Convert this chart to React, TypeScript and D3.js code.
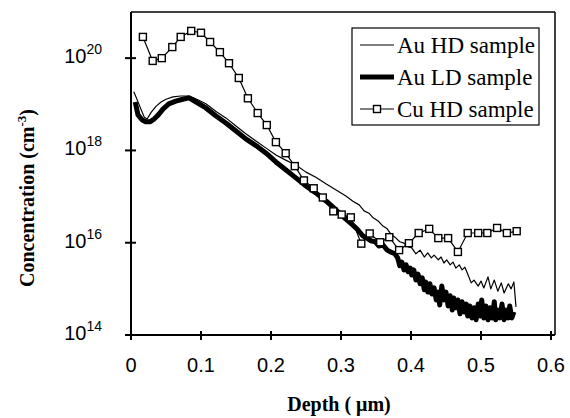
import React from "react";
import * as d3 from "d3";

// Depth (µm) and log10 concentration (cm^-3)
const cuDepth = [0.017,0.031,0.044,0.059,0.071,0.086,0.100,0.113,0.127,0.140,0.154,0.167,0.181,0.194,0.207,0.221,0.234,0.247,0.261,0.274,0.289,0.301,0.314,0.329,0.341,0.356,0.369,0.383,0.397,0.411,0.426,0.439,0.453,0.467,0.481,0.496,0.509,0.523,0.537,0.551];
const cuLog = [20.46,19.94,20.00,20.24,20.46,20.59,20.55,20.35,20.13,19.89,19.57,19.13,18.81,18.55,18.18,17.94,17.66,17.35,17.18,16.98,16.68,16.61,16.55,15.98,16.20,16.01,16.12,15.84,15.99,16.21,16.30,16.10,16.10,15.80,16.21,16.21,16.21,16.32,16.21,16.25];

const auHdDepth = [0.004,0.009,0.014,0.019,0.023,0.029,0.036,0.043,0.050,0.060,0.071,0.083,0.094,0.107,0.121,0.136,0.150,0.164,0.179,0.193,0.207,0.221,0.236,0.250,0.264,0.279,0.293,0.307,0.317,0.326,0.333,0.340,0.346,0.353,0.360,0.366,0.371,0.377,0.384,0.390,0.396,0.401,0.407,0.413,0.419,0.424,0.429,0.433,0.439,0.443,0.447,0.451,0.456,0.460,0.464,0.469,0.473,0.477,0.481,0.486,0.490,0.496,0.500,0.504,0.510,0.514,0.519,0.524,0.529,0.533,0.539,0.543,0.547,0.550];
const auHdLog = [19.27,19.09,18.90,18.72,18.68,18.83,18.96,19.05,19.11,19.16,19.18,19.18,19.11,19.01,18.85,18.70,18.53,18.36,18.20,18.05,17.90,17.79,17.68,17.53,17.42,17.27,17.14,17.01,16.90,16.82,16.69,16.64,16.54,16.47,16.36,16.30,16.19,16.12,16.02,15.99,15.91,15.89,15.76,15.84,15.69,15.78,15.67,15.73,15.63,15.69,15.56,15.63,15.52,15.58,15.45,15.52,15.41,15.47,15.32,15.13,15.19,15.06,15.17,15.02,15.26,15.00,15.19,14.95,15.13,14.91,15.11,15.00,15.15,14.61];

const auLdDepth = [0.006,0.010,0.016,0.021,0.027,0.033,0.039,0.046,0.054,0.064,0.074,0.083,0.093,0.107,0.121,0.136,0.150,0.164,0.179,0.193,0.207,0.221,0.236,0.250,0.264,0.279,0.293,0.307,0.317,0.324,0.331,0.337,0.343,0.349,0.354,0.360,0.366,0.371,0.377,
  0.381,0.384,0.387,0.390,0.393,0.396,0.399,0.401,0.404,0.407,0.410,0.413,0.416,0.419,0.421,0.424,0.427,0.430,0.433,0.436,0.439,0.441,0.444,0.447,0.450,0.453,0.456,0.459,0.461,0.464,0.467,0.470,0.473,0.476,0.479,0.481,0.484,0.487,0.490,0.493,0.496,0.499,0.501,0.504,0.507,0.510,0.513,0.516,0.519,0.521,0.524,0.527,0.530,0.533,0.536,0.539,0.541,0.544,0.547];
const auLdLog = [19.05,18.77,18.66,18.62,18.62,18.68,18.77,18.90,19.01,19.07,19.11,19.14,19.05,18.92,18.75,18.59,18.42,18.25,18.10,17.94,17.75,17.58,17.40,17.23,17.08,16.90,16.71,16.51,16.38,16.28,16.15,16.10,16.04,16.02,15.93,15.95,15.84,15.80,15.76,
  15.67,15.50,15.58,15.41,15.52,15.37,15.45,15.30,15.41,15.19,15.32,15.11,15.24,14.98,15.15,14.93,15.11,14.89,15.02,14.76,14.93,14.65,15.06,14.76,14.93,14.63,14.85,14.54,14.80,14.59,14.76,14.46,14.72,14.50,14.67,14.41,14.63,14.37,14.59,14.33,14.67,14.41,14.76,14.37,14.63,14.33,14.59,14.37,14.72,14.33,14.54,14.37,14.67,14.33,14.54,14.37,14.63,14.37,14.50];

const xTicks = [0, 0.1, 0.2, 0.3, 0.4, 0.5, 0.6];
const yTickExp = [14, 16, 18, 20];
const legendLabels = ["Au HD sample", "Au LD sample", "Cu HD sample"];

export default function App() {
  const W = 570, H = 418;
  const x = d3.scaleLinear().domain([0, 0.6]).range([131, 551]);
  const y = d3.scaleLog().domain([1e14, 1e21]).range([335, 12]);

  const mk = (ds: number[], ls: number[]) => ds.map((d, i) => [d, Math.pow(10, ls[i])] as [number, number]);
  const line = d3.line<[number, number]>().x(d => x(d[0])).y(d => y(d[1]));
  const cu = mk(cuDepth, cuLog);
  const hd = mk(auHdDepth, auHdLog);
  const ld = mk(auLdDepth, auLdLog);

  const serif = "'Liberation Serif', 'Times New Roman', serif";
  const sans = "'Liberation Sans', Arial, sans-serif";
  const sq = 7;

  return (
    <svg width={W} height={H} style={{ position: "absolute", left: 0, top: 0, background: "#fff" }}>
      <rect x={0} y={0} width={W} height={H} fill="#fff" />
      {/* frame */}
      <line x1={x(0)} y1={y(1e21)} x2={x(0.6) + 4} y2={y(1e21)} stroke="#000" strokeWidth={1.5} />
      <line x1={x(0.6) + 4} y1={y(1e21)} x2={x(0.6) + 4} y2={y(1e14)} stroke="#000" strokeWidth={1.5} />
      {/* axes */}
      <line x1={x(0)} y1={y(1e21)} x2={x(0)} y2={y(1e14)} stroke="#000" strokeWidth={2} />
      <line x1={x(0) - 5} y1={y(1e14)} x2={x(0.6) + 4} y2={y(1e14)} stroke="#000" strokeWidth={2} />
      {xTicks.map(t => (
        <g key={t}>
          <line x1={x(t)} x2={x(t)} y1={y(1e14) - 4} y2={y(1e14) + 5} stroke="#000" strokeWidth={2} />
          <text x={x(t)} y={y(1e14) + 37} textAnchor="middle" fontFamily={sans} fontSize={20}>{t === 0 ? "0" : t.toFixed(1)}</text>
        </g>
      ))}
      {yTickExp.map(e => (
        <g key={e}>
          <line x1={x(0) - 6} x2={x(0) + 5} y1={y(Math.pow(10, e))} y2={y(Math.pow(10, e))} stroke="#000" strokeWidth={2} />
          <text x={102} y={y(Math.pow(10, e)) + 5} textAnchor="end" fontFamily={sans} fontSize={20}>
            10<tspan fontSize={14} dy={-9}>{e}</tspan>
          </text>
        </g>
      ))}
      {/* series */}
      <path d={line(ld) || ""} fill="none" stroke="#000" strokeWidth={5} strokeLinejoin="round" />
      <path d={line(hd) || ""} fill="none" stroke="#000" strokeWidth={1.2} strokeLinejoin="round" />
      <path d={line(cu) || ""} fill="none" stroke="#000" strokeWidth={1.2} />
      {cu.map((d, i) => (
        <rect key={i} x={x(d[0]) - sq / 2} y={y(d[1]) - sq / 2} width={sq} height={sq} fill="#fff" stroke="#000" strokeWidth={1.4} />
      ))}
      {/* legend */}
      <rect x={352} y={28} width={187} height={97} fill="#fff" stroke="#000" strokeWidth={1.2} />
      {legendLabels.map((lab, i) => {
        const yy = 45 + i * 32;
        return (
          <g key={lab}>
            <line x1={360} x2={394} y1={yy} y2={yy} stroke="#000" strokeWidth={i === 1 ? 5 : 1.2} />
            {i === 2 && <rect x={377 - sq / 2} y={yy - sq / 2} width={sq} height={sq} fill="#fff" stroke="#000" strokeWidth={1.4} />}
            <text x={397} y={yy + 8} fontFamily={serif} fontSize={23}>{lab}</text>
          </g>
        );
      })}
      {/* axis titles */}
      <text x={339} y={411} textAnchor="middle" fontFamily={serif} fontWeight="bold" fontSize={20}>Depth ( μm)</text>
      <text transform={`translate(34,198) rotate(-90)`} textAnchor="middle" fontFamily={serif} fontWeight="bold" fontSize={20}>
        Concentration (cm<tspan fontSize={13} dy={-8}>-3</tspan><tspan dy={8}>)</tspan>
      </text>
    </svg>
  );
}
